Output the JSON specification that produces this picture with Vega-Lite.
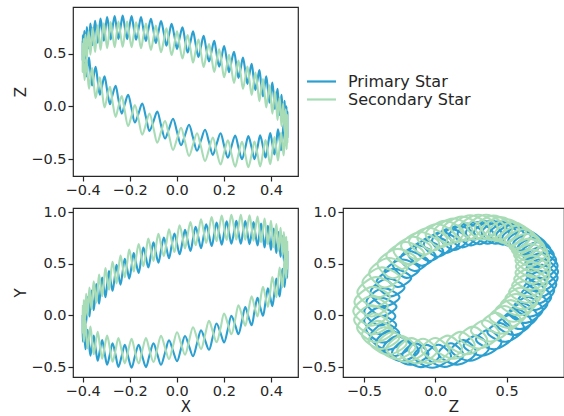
{
"$schema": "https://vega.github.io/schema/vega-lite/v6.json",
"padding": {"left": 13, "top": 6, "right": 0, "bottom": 0},
"datasets": {"orbit": [
{"s":"Primary Star","i":0,"x":0.470,"y":0.625,"z":-0.170},
{"s":"Primary Star","i":1,"x":0.470,"y":0.528,"z":-0.048},
{"s":"Primary Star","i":2,"x":0.469,"y":0.431,"z":-0.146},
{"s":"Primary Star","i":3,"x":0.469,"y":0.554,"z":-0.244},
{"s":"Primary Star","i":4,"x":0.468,"y":0.677,"z":-0.121},
{"s":"Primary Star","i":5,"x":0.466,"y":0.579,"z":0.002},
{"s":"Primary Star","i":6,"x":0.465,"y":0.482,"z":-0.095},
{"s":"Primary Star","i":7,"x":0.463,"y":0.603,"z":-0.192},
{"s":"Primary Star","i":8,"x":0.460,"y":0.725,"z":-0.069},
{"s":"Primary Star","i":9,"x":0.458,"y":0.626,"z":0.055},
{"s":"Primary Star","i":10,"x":0.455,"y":0.527,"z":-0.042},
{"s":"Primary Star","i":11,"x":0.452,"y":0.648,"z":-0.138},
{"s":"Primary Star","i":12,"x":0.449,"y":0.769,"z":-0.014},
{"s":"Primary Star","i":13,"x":0.445,"y":0.669,"z":0.110},
{"s":"Primary Star","i":14,"x":0.441,"y":0.569,"z":0.015},
{"s":"Primary Star","i":15,"x":0.437,"y":0.688,"z":-0.081},
{"s":"Primary Star","i":16,"x":0.432,"y":0.807,"z":0.043},
{"s":"Primary Star","i":17,"x":0.428,"y":0.706,"z":0.168},
{"s":"Primary Star","i":18,"x":0.423,"y":0.605,"z":0.072},
{"s":"Primary Star","i":19,"x":0.417,"y":0.723,"z":-0.023},
{"s":"Primary Star","i":20,"x":0.412,"y":0.840,"z":0.102},
{"s":"Primary Star","i":21,"x":0.406,"y":0.738,"z":0.227},
{"s":"Primary Star","i":22,"x":0.400,"y":0.635,"z":0.132},
{"s":"Primary Star","i":23,"x":0.394,"y":0.752,"z":0.036},
{"s":"Primary Star","i":24,"x":0.387,"y":0.868,"z":0.161},
{"s":"Primary Star","i":25,"x":0.380,"y":0.764,"z":0.286},
{"s":"Primary Star","i":26,"x":0.373,"y":0.659,"z":0.191},
{"s":"Primary Star","i":27,"x":0.366,"y":0.775,"z":0.096},
{"s":"Primary Star","i":28,"x":0.358,"y":0.889,"z":0.221},
{"s":"Primary Star","i":29,"x":0.351,"y":0.784,"z":0.346},
{"s":"Primary Star","i":30,"x":0.343,"y":0.678,"z":0.251},
{"s":"Primary Star","i":31,"x":0.334,"y":0.791,"z":0.156},
{"s":"Primary Star","i":32,"x":0.326,"y":0.904,"z":0.280},
{"s":"Primary Star","i":33,"x":0.318,"y":0.797,"z":0.405},
{"s":"Primary Star","i":34,"x":0.309,"y":0.690,"z":0.309},
{"s":"Primary Star","i":35,"x":0.300,"y":0.802,"z":0.214},
{"s":"Primary Star","i":36,"x":0.291,"y":0.913,"z":0.338},
{"s":"Primary Star","i":37,"x":0.281,"y":0.804,"z":0.463},
{"s":"Primary Star","i":38,"x":0.272,"y":0.695,"z":0.367},
{"s":"Primary Star","i":39,"x":0.262,"y":0.805,"z":0.271},
{"s":"Primary Star","i":40,"x":0.253,"y":0.915,"z":0.395},
{"s":"Primary Star","i":41,"x":0.243,"y":0.805,"z":0.518},
{"s":"Primary Star","i":42,"x":0.232,"y":0.694,"z":0.422},
{"s":"Primary Star","i":43,"x":0.222,"y":0.802,"z":0.325},
{"s":"Primary Star","i":44,"x":0.212,"y":0.911,"z":0.449},
{"s":"Primary Star","i":45,"x":0.201,"y":0.799,"z":0.572},
{"s":"Primary Star","i":46,"x":0.191,"y":0.686,"z":0.475},
{"s":"Primary Star","i":47,"x":0.180,"y":0.793,"z":0.377},
{"s":"Primary Star","i":48,"x":0.169,"y":0.900,"z":0.500},
{"s":"Primary Star","i":49,"x":0.159,"y":0.786,"z":0.622},
{"s":"Primary Star","i":50,"x":0.148,"y":0.672,"z":0.524},
{"s":"Primary Star","i":51,"x":0.137,"y":0.777,"z":0.426},
{"s":"Primary Star","i":52,"x":0.125,"y":0.882,"z":0.547},
{"s":"Primary Star","i":53,"x":0.114,"y":0.767,"z":0.669},
{"s":"Primary Star","i":54,"x":0.103,"y":0.651,"z":0.570},
{"s":"Primary Star","i":55,"x":0.092,"y":0.755,"z":0.470},
{"s":"Primary Star","i":56,"x":0.080,"y":0.859,"z":0.591},
{"s":"Primary Star","i":57,"x":0.069,"y":0.742,"z":0.711},
{"s":"Primary Star","i":58,"x":0.058,"y":0.625,"z":0.611},
{"s":"Primary Star","i":59,"x":0.046,"y":0.727,"z":0.511},
{"s":"Primary Star","i":60,"x":0.035,"y":0.829,"z":0.630},
{"s":"Primary Star","i":61,"x":0.024,"y":0.711,"z":0.749},
{"s":"Primary Star","i":62,"x":0.012,"y":0.592,"z":0.648},
{"s":"Primary Star","i":63,"x":0.001,"y":0.693,"z":0.546},
{"s":"Primary Star","i":64,"x":-0.010,"y":0.794,"z":0.664},
{"s":"Primary Star","i":65,"x":-0.022,"y":0.674,"z":0.782},
{"s":"Primary Star","i":66,"x":-0.033,"y":0.554,"z":0.679},
{"s":"Primary Star","i":67,"x":-0.044,"y":0.654,"z":0.576},
{"s":"Primary Star","i":68,"x":-0.055,"y":0.753,"z":0.693},
{"s":"Primary Star","i":69,"x":-0.067,"y":0.632,"z":0.809},
{"s":"Primary Star","i":70,"x":-0.078,"y":0.511,"z":0.705},
{"s":"Primary Star","i":71,"x":-0.089,"y":0.610,"z":0.601},
{"s":"Primary Star","i":72,"x":-0.099,"y":0.708,"z":0.716},
{"s":"Primary Star","i":73,"x":-0.110,"y":0.586,"z":0.831},
{"s":"Primary Star","i":74,"x":-0.121,"y":0.464,"z":0.726},
{"s":"Primary Star","i":75,"x":-0.131,"y":0.561,"z":0.620},
{"s":"Primary Star","i":76,"x":-0.142,"y":0.658,"z":0.733},
{"s":"Primary Star","i":77,"x":-0.152,"y":0.535,"z":0.847},
{"s":"Primary Star","i":78,"x":-0.162,"y":0.412,"z":0.740},
{"s":"Primary Star","i":79,"x":-0.173,"y":0.509,"z":0.632},
{"s":"Primary Star","i":80,"x":-0.183,"y":0.605,"z":0.745},
{"s":"Primary Star","i":81,"x":-0.192,"y":0.481,"z":0.857},
{"s":"Primary Star","i":82,"x":-0.202,"y":0.357,"z":0.748},
{"s":"Primary Star","i":83,"x":-0.211,"y":0.453,"z":0.639},
{"s":"Primary Star","i":84,"x":-0.221,"y":0.549,"z":0.750},
{"s":"Primary Star","i":85,"x":-0.230,"y":0.424,"z":0.860},
{"s":"Primary Star","i":86,"x":-0.239,"y":0.299,"z":0.750},
{"s":"Primary Star","i":87,"x":-0.248,"y":0.395,"z":0.639},
{"s":"Primary Star","i":88,"x":-0.256,"y":0.490,"z":0.749},
{"s":"Primary Star","i":89,"x":-0.264,"y":0.364,"z":0.857},
{"s":"Primary Star","i":90,"x":-0.273,"y":0.239,"z":0.746},
{"s":"Primary Star","i":91,"x":-0.281,"y":0.334,"z":0.634},
{"s":"Primary Star","i":92,"x":-0.288,"y":0.429,"z":0.741},
{"s":"Primary Star","i":93,"x":-0.296,"y":0.303,"z":0.848},
{"s":"Primary Star","i":94,"x":-0.303,"y":0.178,"z":0.735},
{"s":"Primary Star","i":95,"x":-0.310,"y":0.272,"z":0.622},
{"s":"Primary Star","i":96,"x":-0.317,"y":0.366,"z":0.728},
{"s":"Primary Star","i":97,"x":-0.324,"y":0.241,"z":0.833},
{"s":"Primary Star","i":98,"x":-0.330,"y":0.115,"z":0.719},
{"s":"Primary Star","i":99,"x":-0.336,"y":0.209,"z":0.604},
{"s":"Primary Star","i":100,"x":-0.342,"y":0.304,"z":0.708},
{"s":"Primary Star","i":101,"x":-0.347,"y":0.178,"z":0.812},
{"s":"Primary Star","i":102,"x":-0.353,"y":0.052,"z":0.696},
{"s":"Primary Star","i":103,"x":-0.358,"y":0.146,"z":0.580},
{"s":"Primary Star","i":104,"x":-0.362,"y":0.241,"z":0.683},
{"s":"Primary Star","i":105,"x":-0.367,"y":0.115,"z":0.786},
{"s":"Primary Star","i":106,"x":-0.371,"y":-0.010,"z":0.668},
{"s":"Primary Star","i":107,"x":-0.375,"y":0.084,"z":0.550},
{"s":"Primary Star","i":108,"x":-0.379,"y":0.179,"z":0.652},
{"s":"Primary Star","i":109,"x":-0.382,"y":0.054,"z":0.753},
{"s":"Primary Star","i":110,"x":-0.385,"y":-0.071,"z":0.635},
{"s":"Primary Star","i":111,"x":-0.388,"y":0.024,"z":0.515},
{"s":"Primary Star","i":112,"x":-0.391,"y":0.119,"z":0.616},
{"s":"Primary Star","i":113,"x":-0.393,"y":-0.006,"z":0.716},
{"s":"Primary Star","i":114,"x":-0.395,"y":-0.131,"z":0.596},
{"s":"Primary Star","i":115,"x":-0.396,"y":-0.035,"z":0.476},
{"s":"Primary Star","i":116,"x":-0.398,"y":0.060,"z":0.575},
{"s":"Primary Star","i":117,"x":-0.399,"y":-0.064,"z":0.674},
{"s":"Primary Star","i":118,"x":-0.399,"y":-0.188,"z":0.553},
{"s":"Primary Star","i":119,"x":-0.400,"y":-0.091,"z":0.432},
{"s":"Primary Star","i":120,"x":-0.400,"y":0.005,"z":0.530},
{"s":"Primary Star","i":121,"x":-0.400,"y":-0.125,"z":0.622},
{"s":"Primary Star","i":122,"x":-0.399,"y":-0.254,"z":0.494},
{"s":"Primary Star","i":123,"x":-0.397,"y":-0.163,"z":0.365},
{"s":"Primary Star","i":124,"x":-0.395,"y":-0.072,"z":0.455},
{"s":"Primary Star","i":125,"x":-0.392,"y":-0.199,"z":0.545},
{"s":"Primary Star","i":126,"x":-0.388,"y":-0.326,"z":0.415},
{"s":"Primary Star","i":127,"x":-0.384,"y":-0.233,"z":0.285},
{"s":"Primary Star","i":128,"x":-0.379,"y":-0.139,"z":0.374},
{"s":"Primary Star","i":129,"x":-0.373,"y":-0.264,"z":0.463},
{"s":"Primary Star","i":130,"x":-0.367,"y":-0.388,"z":0.331},
{"s":"Primary Star","i":131,"x":-0.360,"y":-0.292,"z":0.199},
{"s":"Primary Star","i":132,"x":-0.353,"y":-0.195,"z":0.288},
{"s":"Primary Star","i":133,"x":-0.345,"y":-0.317,"z":0.376},
{"s":"Primary Star","i":134,"x":-0.336,"y":-0.438,"z":0.243},
{"s":"Primary Star","i":135,"x":-0.327,"y":-0.338,"z":0.111},
{"s":"Primary Star","i":136,"x":-0.317,"y":-0.238,"z":0.199},
{"s":"Primary Star","i":137,"x":-0.307,"y":-0.357,"z":0.286},
{"s":"Primary Star","i":138,"x":-0.296,"y":-0.475,"z":0.154},
{"s":"Primary Star","i":139,"x":-0.284,"y":-0.372,"z":0.022},
{"s":"Primary Star","i":140,"x":-0.273,"y":-0.268,"z":0.109},
{"s":"Primary Star","i":141,"x":-0.260,"y":-0.383,"z":0.197},
{"s":"Primary Star","i":142,"x":-0.248,"y":-0.497,"z":0.065},
{"s":"Primary Star","i":143,"x":-0.234,"y":-0.391,"z":-0.067},
{"s":"Primary Star","i":144,"x":-0.221,"y":-0.283,"z":0.022},
{"s":"Primary Star","i":145,"x":-0.207,"y":-0.395,"z":0.110},
{"s":"Primary Star","i":146,"x":-0.192,"y":-0.505,"z":-0.021},
{"s":"Primary Star","i":147,"x":-0.178,"y":-0.395,"z":-0.152},
{"s":"Primary Star","i":148,"x":-0.162,"y":-0.284,"z":-0.062},
{"s":"Primary Star","i":149,"x":-0.147,"y":-0.392,"z":0.028},
{"s":"Primary Star","i":150,"x":-0.131,"y":-0.499,"z":-0.102},
{"s":"Primary Star","i":151,"x":-0.116,"y":-0.385,"z":-0.231},
{"s":"Primary Star","i":152,"x":-0.099,"y":-0.270,"z":-0.140},
{"s":"Primary Star","i":153,"x":-0.083,"y":-0.374,"z":-0.048},
{"s":"Primary Star","i":154,"x":-0.067,"y":-0.477,"z":-0.176},
{"s":"Primary Star","i":155,"x":-0.050,"y":-0.360,"z":-0.303},
{"s":"Primary Star","i":156,"x":-0.033,"y":-0.241,"z":-0.210},
{"s":"Primary Star","i":157,"x":-0.016,"y":-0.342,"z":-0.116},
{"s":"Primary Star","i":158,"x":0.001,"y":-0.442,"z":-0.241},
{"s":"Primary Star","i":159,"x":0.018,"y":-0.321,"z":-0.366},
{"s":"Primary Star","i":160,"x":0.035,"y":-0.199,"z":-0.270},
{"s":"Primary Star","i":161,"x":0.052,"y":-0.296,"z":-0.173},
{"s":"Primary Star","i":162,"x":0.069,"y":-0.393,"z":-0.296},
{"s":"Primary Star","i":163,"x":0.086,"y":-0.269,"z":-0.418},
{"s":"Primary Star","i":164,"x":0.103,"y":-0.144,"z":-0.319},
{"s":"Primary Star","i":165,"x":0.120,"y":-0.239,"z":-0.220},
{"s":"Primary Star","i":166,"x":0.137,"y":-0.332,"z":-0.339},
{"s":"Primary Star","i":167,"x":0.153,"y":-0.206,"z":-0.458},
{"s":"Primary Star","i":168,"x":0.169,"y":-0.078,"z":-0.356},
{"s":"Primary Star","i":169,"x":0.186,"y":-0.170,"z":-0.253},
{"s":"Primary Star","i":170,"x":0.201,"y":-0.261,"z":-0.370},
{"s":"Primary Star","i":171,"x":0.217,"y":-0.132,"z":-0.485},
{"s":"Primary Star","i":172,"x":0.232,"y":-0.002,"z":-0.380},
{"s":"Primary Star","i":173,"x":0.248,"y":-0.092,"z":-0.274},
{"s":"Primary Star","i":174,"x":0.262,"y":-0.181,"z":-0.387},
{"s":"Primary Star","i":175,"x":0.277,"y":-0.050,"z":-0.499},
{"s":"Primary Star","i":176,"x":0.291,"y":0.081,"z":-0.390},
{"s":"Primary Star","i":177,"x":0.304,"y":-0.007,"z":-0.280},
{"s":"Primary Star","i":178,"x":0.318,"y":-0.095,"z":-0.389},
{"s":"Primary Star","i":179,"x":0.330,"y":0.038,"z":-0.498},
{"s":"Primary Star","i":180,"x":0.343,"y":0.171,"z":-0.386},
{"s":"Primary Star","i":181,"x":0.354,"y":0.084,"z":-0.272},
{"s":"Primary Star","i":182,"x":0.366,"y":-0.003,"z":-0.378},
{"s":"Primary Star","i":183,"x":0.377,"y":0.130,"z":-0.483},
{"s":"Primary Star","i":184,"x":0.387,"y":0.264,"z":-0.368},
{"s":"Primary Star","i":185,"x":0.397,"y":0.177,"z":-0.251},
{"s":"Primary Star","i":186,"x":0.406,"y":0.091,"z":-0.354},
{"s":"Primary Star","i":187,"x":0.415,"y":0.224,"z":-0.455},
{"s":"Primary Star","i":188,"x":0.423,"y":0.358,"z":-0.336},
{"s":"Primary Star","i":189,"x":0.430,"y":0.271,"z":-0.216},
{"s":"Primary Star","i":190,"x":0.437,"y":0.185,"z":-0.316},
{"s":"Primary Star","i":191,"x":0.443,"y":0.318,"z":-0.414},
{"s":"Primary Star","i":192,"x":0.449,"y":0.451,"z":-0.292},
{"s":"Primary Star","i":193,"x":0.454,"y":0.364,"z":-0.169},
{"s":"Primary Star","i":194,"x":0.458,"y":0.276,"z":-0.265},
{"s":"Primary Star","i":195,"x":0.462,"y":0.409,"z":-0.361},
{"s":"Primary Star","i":196,"x":0.465,"y":0.541,"z":-0.236},
{"s":"Primary Star","i":197,"x":0.467,"y":0.452,"z":-0.110},
{"s":"Primary Star","i":198,"x":0.469,"y":0.364,"z":-0.204},
{"s":"Primary Star","i":199,"x":0.470,"y":0.495,"z":-0.297},
{"s":"Primary Star","i":200,"x":0.470,"y":0.625,"z":-0.170},
{"s":"Secondary Star","i":0,"x":0.470,"y":0.445,"z":-0.235},
{"s":"Secondary Star","i":1,"x":0.470,"y":0.578,"z":-0.343},
{"s":"Secondary Star","i":2,"x":0.469,"y":0.711,"z":-0.211},
{"s":"Secondary Star","i":3,"x":0.469,"y":0.604,"z":-0.079},
{"s":"Secondary Star","i":4,"x":0.468,"y":0.497,"z":-0.186},
{"s":"Secondary Star","i":5,"x":0.466,"y":0.629,"z":-0.293},
{"s":"Secondary Star","i":6,"x":0.465,"y":0.762,"z":-0.160},
{"s":"Secondary Star","i":7,"x":0.463,"y":0.653,"z":-0.027},
{"s":"Secondary Star","i":8,"x":0.460,"y":0.545,"z":-0.134},
{"s":"Secondary Star","i":9,"x":0.458,"y":0.676,"z":-0.240},
{"s":"Secondary Star","i":10,"x":0.455,"y":0.807,"z":-0.107},
{"s":"Secondary Star","i":11,"x":0.452,"y":0.698,"z":0.027},
{"s":"Secondary Star","i":12,"x":0.449,"y":0.589,"z":-0.079},
{"s":"Secondary Star","i":13,"x":0.445,"y":0.719,"z":-0.185},
{"s":"Secondary Star","i":14,"x":0.441,"y":0.849,"z":-0.050},
{"s":"Secondary Star","i":15,"x":0.437,"y":0.738,"z":0.084},
{"s":"Secondary Star","i":16,"x":0.432,"y":0.627,"z":-0.022},
{"s":"Secondary Star","i":17,"x":0.428,"y":0.756,"z":-0.127},
{"s":"Secondary Star","i":18,"x":0.423,"y":0.885,"z":0.007},
{"s":"Secondary Star","i":19,"x":0.417,"y":0.773,"z":0.142},
{"s":"Secondary Star","i":20,"x":0.412,"y":0.660,"z":0.037},
{"s":"Secondary Star","i":21,"x":0.406,"y":0.788,"z":-0.068},
{"s":"Secondary Star","i":22,"x":0.400,"y":0.915,"z":0.067},
{"s":"Secondary Star","i":23,"x":0.394,"y":0.802,"z":0.201},
{"s":"Secondary Star","i":24,"x":0.387,"y":0.688,"z":0.096},
{"s":"Secondary Star","i":25,"x":0.380,"y":0.814,"z":-0.009},
{"s":"Secondary Star","i":26,"x":0.373,"y":0.939,"z":0.126},
{"s":"Secondary Star","i":27,"x":0.366,"y":0.825,"z":0.261},
{"s":"Secondary Star","i":28,"x":0.358,"y":0.709,"z":0.156},
{"s":"Secondary Star","i":29,"x":0.351,"y":0.834,"z":0.051},
{"s":"Secondary Star","i":30,"x":0.343,"y":0.958,"z":0.186},
{"s":"Secondary Star","i":31,"x":0.334,"y":0.841,"z":0.321},
{"s":"Secondary Star","i":32,"x":0.326,"y":0.724,"z":0.215},
{"s":"Secondary Star","i":33,"x":0.318,"y":0.847,"z":0.110},
{"s":"Secondary Star","i":34,"x":0.309,"y":0.970,"z":0.244},
{"s":"Secondary Star","i":35,"x":0.300,"y":0.852,"z":0.379},
{"s":"Secondary Star","i":36,"x":0.291,"y":0.733,"z":0.273},
{"s":"Secondary Star","i":37,"x":0.281,"y":0.854,"z":0.168},
{"s":"Secondary Star","i":38,"x":0.272,"y":0.975,"z":0.302},
{"s":"Secondary Star","i":39,"x":0.262,"y":0.855,"z":0.436},
{"s":"Secondary Star","i":40,"x":0.253,"y":0.735,"z":0.330},
{"s":"Secondary Star","i":41,"x":0.243,"y":0.855,"z":0.223},
{"s":"Secondary Star","i":42,"x":0.232,"y":0.974,"z":0.357},
{"s":"Secondary Star","i":43,"x":0.222,"y":0.852,"z":0.490},
{"s":"Secondary Star","i":44,"x":0.212,"y":0.731,"z":0.384},
{"s":"Secondary Star","i":45,"x":0.201,"y":0.849,"z":0.277},
{"s":"Secondary Star","i":46,"x":0.191,"y":0.966,"z":0.410},
{"s":"Secondary Star","i":47,"x":0.180,"y":0.843,"z":0.542},
{"s":"Secondary Star","i":48,"x":0.169,"y":0.720,"z":0.435},
{"s":"Secondary Star","i":49,"x":0.159,"y":0.836,"z":0.327},
{"s":"Secondary Star","i":50,"x":0.148,"y":0.952,"z":0.459},
{"s":"Secondary Star","i":51,"x":0.137,"y":0.827,"z":0.591},
{"s":"Secondary Star","i":52,"x":0.125,"y":0.702,"z":0.482},
{"s":"Secondary Star","i":53,"x":0.114,"y":0.817,"z":0.374},
{"s":"Secondary Star","i":54,"x":0.103,"y":0.931,"z":0.505},
{"s":"Secondary Star","i":55,"x":0.092,"y":0.805,"z":0.635},
{"s":"Secondary Star","i":56,"x":0.080,"y":0.679,"z":0.526},
{"s":"Secondary Star","i":57,"x":0.069,"y":0.792,"z":0.416},
{"s":"Secondary Star","i":58,"x":0.058,"y":0.905,"z":0.546},
{"s":"Secondary Star","i":59,"x":0.046,"y":0.777,"z":0.676},
{"s":"Secondary Star","i":60,"x":0.035,"y":0.649,"z":0.565},
{"s":"Secondary Star","i":61,"x":0.024,"y":0.761,"z":0.454},
{"s":"Secondary Star","i":62,"x":0.012,"y":0.872,"z":0.583},
{"s":"Secondary Star","i":63,"x":0.001,"y":0.743,"z":0.711},
{"s":"Secondary Star","i":64,"x":-0.010,"y":0.614,"z":0.599},
{"s":"Secondary Star","i":65,"x":-0.022,"y":0.724,"z":0.487},
{"s":"Secondary Star","i":66,"x":-0.033,"y":0.834,"z":0.614},
{"s":"Secondary Star","i":67,"x":-0.044,"y":0.704,"z":0.741},
{"s":"Secondary Star","i":68,"x":-0.055,"y":0.573,"z":0.628},
{"s":"Secondary Star","i":69,"x":-0.067,"y":0.682,"z":0.514},
{"s":"Secondary Star","i":70,"x":-0.078,"y":0.791,"z":0.640},
{"s":"Secondary Star","i":71,"x":-0.089,"y":0.660,"z":0.766},
{"s":"Secondary Star","i":72,"x":-0.099,"y":0.528,"z":0.651},
{"s":"Secondary Star","i":73,"x":-0.110,"y":0.636,"z":0.536},
{"s":"Secondary Star","i":74,"x":-0.121,"y":0.744,"z":0.661},
{"s":"Secondary Star","i":75,"x":-0.131,"y":0.611,"z":0.785},
{"s":"Secondary Star","i":76,"x":-0.142,"y":0.478,"z":0.668},
{"s":"Secondary Star","i":77,"x":-0.152,"y":0.585,"z":0.552},
{"s":"Secondary Star","i":78,"x":-0.162,"y":0.692,"z":0.675},
{"s":"Secondary Star","i":79,"x":-0.173,"y":0.559,"z":0.797},
{"s":"Secondary Star","i":80,"x":-0.183,"y":0.425,"z":0.680},
{"s":"Secondary Star","i":81,"x":-0.192,"y":0.531,"z":0.562},
{"s":"Secondary Star","i":82,"x":-0.202,"y":0.637,"z":0.683},
{"s":"Secondary Star","i":83,"x":-0.211,"y":0.503,"z":0.804},
{"s":"Secondary Star","i":84,"x":-0.221,"y":0.369,"z":0.685},
{"s":"Secondary Star","i":85,"x":-0.230,"y":0.474,"z":0.565},
{"s":"Secondary Star","i":86,"x":-0.239,"y":0.579,"z":0.685},
{"s":"Secondary Star","i":87,"x":-0.248,"y":0.445,"z":0.804},
{"s":"Secondary Star","i":88,"x":-0.256,"y":0.310,"z":0.684},
{"s":"Secondary Star","i":89,"x":-0.264,"y":0.414,"z":0.562},
{"s":"Secondary Star","i":90,"x":-0.273,"y":0.519,"z":0.681},
{"s":"Secondary Star","i":91,"x":-0.281,"y":0.384,"z":0.799},
{"s":"Secondary Star","i":92,"x":-0.288,"y":0.249,"z":0.676},
{"s":"Secondary Star","i":93,"x":-0.296,"y":0.353,"z":0.553},
{"s":"Secondary Star","i":94,"x":-0.303,"y":0.458,"z":0.670},
{"s":"Secondary Star","i":95,"x":-0.310,"y":0.322,"z":0.787},
{"s":"Secondary Star","i":96,"x":-0.317,"y":0.186,"z":0.663},
{"s":"Secondary Star","i":97,"x":-0.324,"y":0.291,"z":0.538},
{"s":"Secondary Star","i":98,"x":-0.330,"y":0.395,"z":0.654},
{"s":"Secondary Star","i":99,"x":-0.336,"y":0.259,"z":0.769},
{"s":"Secondary Star","i":100,"x":-0.342,"y":0.124,"z":0.643},
{"s":"Secondary Star","i":101,"x":-0.347,"y":0.228,"z":0.517},
{"s":"Secondary Star","i":102,"x":-0.353,"y":0.332,"z":0.631},
{"s":"Secondary Star","i":103,"x":-0.358,"y":0.196,"z":0.745},
{"s":"Secondary Star","i":104,"x":-0.362,"y":0.061,"z":0.618},
{"s":"Secondary Star","i":105,"x":-0.367,"y":0.165,"z":0.491},
{"s":"Secondary Star","i":106,"x":-0.371,"y":0.270,"z":0.603},
{"s":"Secondary Star","i":107,"x":-0.375,"y":0.134,"z":0.715},
{"s":"Secondary Star","i":108,"x":-0.379,"y":-0.001,"z":0.587},
{"s":"Secondary Star","i":109,"x":-0.382,"y":0.104,"z":0.458},
{"s":"Secondary Star","i":110,"x":-0.385,"y":0.209,"z":0.570},
{"s":"Secondary Star","i":111,"x":-0.388,"y":0.074,"z":0.680},
{"s":"Secondary Star","i":112,"x":-0.391,"y":-0.061,"z":0.551},
{"s":"Secondary Star","i":113,"x":-0.393,"y":0.044,"z":0.421},
{"s":"Secondary Star","i":114,"x":-0.395,"y":0.149,"z":0.531},
{"s":"Secondary Star","i":115,"x":-0.396,"y":0.015,"z":0.641},
{"s":"Secondary Star","i":116,"x":-0.398,"y":-0.120,"z":0.510},
{"s":"Secondary Star","i":117,"x":-0.399,"y":-0.014,"z":0.379},
{"s":"Secondary Star","i":118,"x":-0.399,"y":0.092,"z":0.488},
{"s":"Secondary Star","i":119,"x":-0.400,"y":-0.041,"z":0.597},
{"s":"Secondary Star","i":120,"x":-0.400,"y":-0.175,"z":0.465},
{"s":"Secondary Star","i":121,"x":-0.400,"y":-0.075,"z":0.327},
{"s":"Secondary Star","i":122,"x":-0.399,"y":0.026,"z":0.429},
{"s":"Secondary Star","i":123,"x":-0.397,"y":-0.113,"z":0.530},
{"s":"Secondary Star","i":124,"x":-0.395,"y":-0.252,"z":0.390},
{"s":"Secondary Star","i":125,"x":-0.392,"y":-0.149,"z":0.250},
{"s":"Secondary Star","i":126,"x":-0.388,"y":-0.046,"z":0.350},
{"s":"Secondary Star","i":127,"x":-0.384,"y":-0.183,"z":0.450},
{"s":"Secondary Star","i":128,"x":-0.379,"y":-0.319,"z":0.309},
{"s":"Secondary Star","i":129,"x":-0.373,"y":-0.214,"z":0.168},
{"s":"Secondary Star","i":130,"x":-0.367,"y":-0.108,"z":0.266},
{"s":"Secondary Star","i":131,"x":-0.360,"y":-0.242,"z":0.364},
{"s":"Secondary Star","i":132,"x":-0.353,"y":-0.375,"z":0.223},
{"s":"Secondary Star","i":133,"x":-0.345,"y":-0.267,"z":0.081},
{"s":"Secondary Star","i":134,"x":-0.336,"y":-0.158,"z":0.178},
{"s":"Secondary Star","i":135,"x":-0.327,"y":-0.288,"z":0.276},
{"s":"Secondary Star","i":136,"x":-0.317,"y":-0.418,"z":0.134},
{"s":"Secondary Star","i":137,"x":-0.307,"y":-0.307,"z":-0.009},
{"s":"Secondary Star","i":138,"x":-0.296,"y":-0.195,"z":0.089},
{"s":"Secondary Star","i":139,"x":-0.284,"y":-0.322,"z":0.187},
{"s":"Secondary Star","i":140,"x":-0.273,"y":-0.448,"z":0.044},
{"s":"Secondary Star","i":141,"x":-0.260,"y":-0.333,"z":-0.098},
{"s":"Secondary Star","i":142,"x":-0.248,"y":-0.217,"z":0.000},
{"s":"Secondary Star","i":143,"x":-0.234,"y":-0.341,"z":0.098},
{"s":"Secondary Star","i":144,"x":-0.221,"y":-0.463,"z":-0.043},
{"s":"Secondary Star","i":145,"x":-0.207,"y":-0.345,"z":-0.185},
{"s":"Secondary Star","i":146,"x":-0.192,"y":-0.225,"z":-0.086},
{"s":"Secondary Star","i":147,"x":-0.178,"y":-0.345,"z":0.013},
{"s":"Secondary Star","i":148,"x":-0.162,"y":-0.464,"z":-0.127},
{"s":"Secondary Star","i":149,"x":-0.147,"y":-0.342,"z":-0.267},
{"s":"Secondary Star","i":150,"x":-0.131,"y":-0.219,"z":-0.167},
{"s":"Secondary Star","i":151,"x":-0.116,"y":-0.335,"z":-0.066},
{"s":"Secondary Star","i":152,"x":-0.099,"y":-0.450,"z":-0.205},
{"s":"Secondary Star","i":153,"x":-0.083,"y":-0.324,"z":-0.343},
{"s":"Secondary Star","i":154,"x":-0.067,"y":-0.197,"z":-0.241},
{"s":"Secondary Star","i":155,"x":-0.050,"y":-0.310,"z":-0.138},
{"s":"Secondary Star","i":156,"x":-0.033,"y":-0.421,"z":-0.275},
{"s":"Secondary Star","i":157,"x":-0.016,"y":-0.292,"z":-0.411},
{"s":"Secondary Star","i":158,"x":0.001,"y":-0.162,"z":-0.306},
{"s":"Secondary Star","i":159,"x":0.018,"y":-0.271,"z":-0.201},
{"s":"Secondary Star","i":160,"x":0.035,"y":-0.379,"z":-0.335},
{"s":"Secondary Star","i":161,"x":0.052,"y":-0.246,"z":-0.468},
{"s":"Secondary Star","i":162,"x":0.069,"y":-0.113,"z":-0.361},
{"s":"Secondary Star","i":163,"x":0.086,"y":-0.219,"z":-0.253},
{"s":"Secondary Star","i":164,"x":0.103,"y":-0.324,"z":-0.384},
{"s":"Secondary Star","i":165,"x":0.120,"y":-0.189,"z":-0.515},
{"s":"Secondary Star","i":166,"x":0.137,"y":-0.052,"z":-0.404},
{"s":"Secondary Star","i":167,"x":0.153,"y":-0.156,"z":-0.293},
{"s":"Secondary Star","i":168,"x":0.169,"y":-0.258,"z":-0.421},
{"s":"Secondary Star","i":169,"x":0.186,"y":-0.120,"z":-0.548},
{"s":"Secondary Star","i":170,"x":0.201,"y":0.019,"z":-0.435},
{"s":"Secondary Star","i":171,"x":0.217,"y":-0.082,"z":-0.320},
{"s":"Secondary Star","i":172,"x":0.232,"y":-0.182,"z":-0.445},
{"s":"Secondary Star","i":173,"x":0.248,"y":-0.042,"z":-0.569},
{"s":"Secondary Star","i":174,"x":0.262,"y":0.099,"z":-0.452},
{"s":"Secondary Star","i":175,"x":0.277,"y":0.000,"z":-0.334},
{"s":"Secondary Star","i":176,"x":0.291,"y":-0.099,"z":-0.455},
{"s":"Secondary Star","i":177,"x":0.304,"y":0.043,"z":-0.575},
{"s":"Secondary Star","i":178,"x":0.318,"y":0.185,"z":-0.454},
{"s":"Secondary Star","i":179,"x":0.330,"y":0.088,"z":-0.333},
{"s":"Secondary Star","i":180,"x":0.343,"y":-0.009,"z":-0.451},
{"s":"Secondary Star","i":181,"x":0.354,"y":0.134,"z":-0.567},
{"s":"Secondary Star","i":182,"x":0.366,"y":0.277,"z":-0.443},
{"s":"Secondary Star","i":183,"x":0.377,"y":0.180,"z":-0.318},
{"s":"Secondary Star","i":184,"x":0.387,"y":0.084,"z":-0.433},
{"s":"Secondary Star","i":185,"x":0.397,"y":0.227,"z":-0.546},
{"s":"Secondary Star","i":186,"x":0.406,"y":0.371,"z":-0.419},
{"s":"Secondary Star","i":187,"x":0.415,"y":0.274,"z":-0.290},
{"s":"Secondary Star","i":188,"x":0.423,"y":0.178,"z":-0.401},
{"s":"Secondary Star","i":189,"x":0.430,"y":0.321,"z":-0.511},
{"s":"Secondary Star","i":190,"x":0.437,"y":0.465,"z":-0.381},
{"s":"Secondary Star","i":191,"x":0.443,"y":0.368,"z":-0.249},
{"s":"Secondary Star","i":192,"x":0.449,"y":0.271,"z":-0.357},
{"s":"Secondary Star","i":193,"x":0.454,"y":0.414,"z":-0.464},
{"s":"Secondary Star","i":194,"x":0.458,"y":0.556,"z":-0.330},
{"s":"Secondary Star","i":195,"x":0.462,"y":0.459,"z":-0.196},
{"s":"Secondary Star","i":196,"x":0.465,"y":0.361,"z":-0.301},
{"s":"Secondary Star","i":197,"x":0.467,"y":0.502,"z":-0.405},
{"s":"Secondary Star","i":198,"x":0.469,"y":0.644,"z":-0.269},
{"s":"Secondary Star","i":199,"x":0.470,"y":0.545,"z":-0.132},
{"s":"Secondary Star","i":200,"x":0.470,"y":0.445,"z":-0.235}
]},
"data": {"name": "orbit"},
"bounds": "flush",
"spacing": 32,
"resolve": {"scale": {"color": "shared"}, "legend": {"color": "shared"}},
"config": {
  "font": "DejaVu Sans",
  "view": {"stroke": "#262626", "strokeWidth": 1.2},
  "axis": {"domain": false, "grid": false, "ticks": true, "tickSize": 5, "tickColor": "#262626", "tickWidth": 1.2,
    "labelFont": "DejaVu Sans", "labelFontSize": 14.5, "labelColor": "#262626", "labelPadding": 2,
    "titleFont": "DejaVu Sans", "titleFontSize": 15, "titleFontWeight": "normal", "titleColor": "#262626", "titlePadding": 2},
  "legend": {"orient": "none", "legendX": 240, "legendY": 66, "title": null, "padding": 0,
    "symbolType": "M-2,0H2", "symbolSize": 210, "symbolStrokeWidth": 2.2, "labelOffset": 18,
    "labelFont": "DejaVu Sans", "labelFontSize": 16, "labelColor": "#262626", "rowPadding": 1}
},
"vconcat": [
  {"width": 225, "height": 169,
   "mark": {"type": "line", "interpolate": "catmull-rom", "strokeWidth": 2.1},
   "encoding": {
     "x": {"field": "x", "type": "quantitative", "scale": {"domain": [-0.441, 0.515], "nice": false, "zero": false},
           "axis": {"values": [-0.4, -0.2, 0, 0.2, 0.4], "format": ".1f", "title": null}},
     "y": {"field": "z", "type": "quantitative", "scale": {"domain": [-0.658, 0.942], "nice": false, "zero": false},
           "axis": {"values": [-0.5, 0, 0.5], "format": ".1f", "title": "Z"}},
     "color": {"field": "s", "type": "nominal", "scale": {"domain": ["Primary Star", "Secondary Star"], "range": ["#2b9fcf", "#a8dcb6"]}},
     "order": {"field": "i", "type": "quantitative"}
   }},
  {"hconcat": [
    {"width": 225, "height": 169,
     "mark": {"type": "line", "interpolate": "catmull-rom", "strokeWidth": 2.1},
     "encoding": {
       "x": {"field": "x", "type": "quantitative", "scale": {"domain": [-0.441, 0.515], "nice": false, "zero": false},
             "axis": {"values": [-0.4, -0.2, 0, 0.2, 0.4], "format": ".1f", "title": "X"}},
       "y": {"field": "y", "type": "quantitative", "scale": {"domain": [-0.595, 1.04], "nice": false, "zero": false},
             "axis": {"values": [-0.5, 0, 0.5, 1.0], "format": ".1f", "title": "Y"}},
       "color": {"field": "s", "type": "nominal", "scale": {"domain": ["Primary Star", "Secondary Star"], "range": ["#2b9fcf", "#a8dcb6"]}},
       "order": {"field": "i", "type": "quantitative"}
     }},
    {"width": 221, "height": 169,
     "mark": {"type": "line", "interpolate": "catmull-rom", "strokeWidth": 2.1},
     "encoding": {
       "x": {"field": "z", "type": "quantitative", "scale": {"domain": [-0.647, 0.902], "nice": false, "zero": false},
             "axis": {"values": [-0.5, 0, 0.5], "format": ".1f", "title": "Z"}},
       "y": {"field": "y", "type": "quantitative", "scale": {"domain": [-0.595, 1.04], "nice": false, "zero": false},
             "axis": {"values": [-0.5, 0, 0.5, 1.0], "format": ".1f", "title": null}},
       "color": {"field": "s", "type": "nominal", "scale": {"domain": ["Primary Star", "Secondary Star"], "range": ["#2b9fcf", "#a8dcb6"]}},
       "order": {"field": "i", "type": "quantitative"}
     }}
  ], "spacing": 45, "bounds": "flush", "resolve": {"scale": {"x": "independent"}}}
]
}
